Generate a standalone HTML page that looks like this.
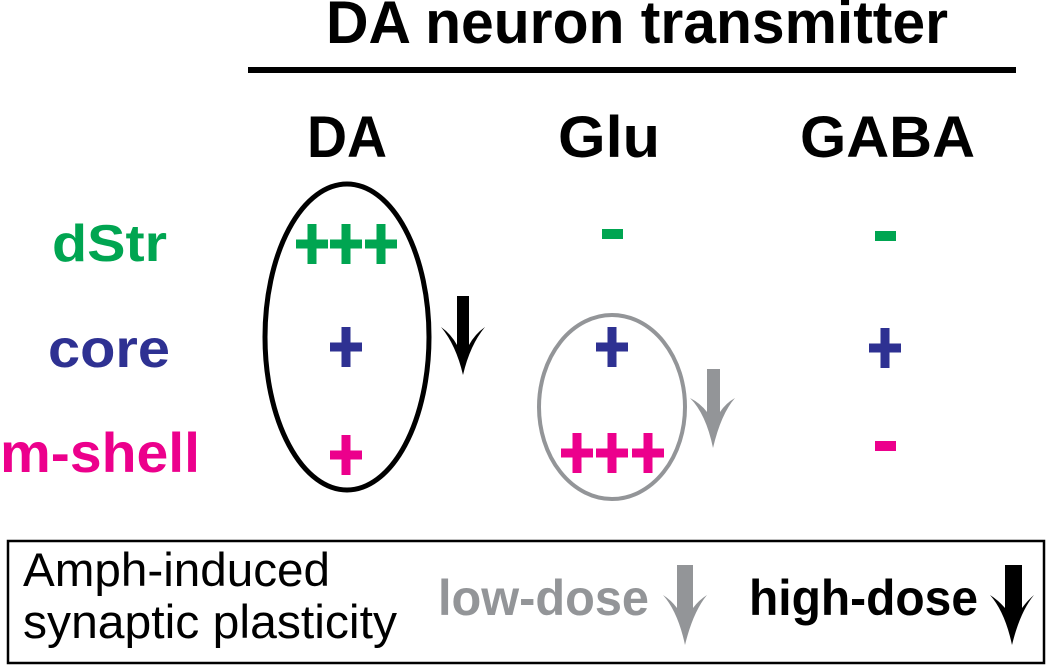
<!DOCTYPE html>
<html><head><meta charset="utf-8"><style>html,body{margin:0;padding:0;background:#fff}svg{display:block}</style></head>
<body>
<svg width="1050" height="665" viewBox="0 0 1050 665" xmlns="http://www.w3.org/2000/svg" font-family="Liberation Sans, Arial, sans-serif">
<text x="326" y="43" font-size="60" font-weight="bold" textLength="622" lengthAdjust="spacingAndGlyphs">DA neuron transmitter</text>
<rect x="248" y="67" width="768" height="6" fill="#000"/>
<text x="307" y="157" font-size="58" font-weight="bold" textLength="80" lengthAdjust="spacingAndGlyphs">DA</text>
<text x="558" y="157" font-size="58" font-weight="bold" textLength="102" lengthAdjust="spacingAndGlyphs">Glu</text>
<text x="800" y="157" font-size="58" font-weight="bold" textLength="175" lengthAdjust="spacingAndGlyphs">GABA</text>
<text x="52" y="261" font-size="52" font-weight="bold" fill="#00a551" textLength="115" lengthAdjust="spacingAndGlyphs">dStr</text>
<text x="48" y="367" font-size="54" font-weight="bold" fill="#2e3192" textLength="122" lengthAdjust="spacingAndGlyphs">core</text>
<text x="0" y="472" font-size="56" font-weight="bold" fill="#ec008c" textLength="200" lengthAdjust="spacingAndGlyphs">m-shell</text>
<defs>
<g id="p"><rect x="-16" y="-4.5" width="32" height="9"/><rect x="-4.5" y="-20" width="9" height="40"/></g>
</defs>
<g fill="#00a551"><use href="#p" x="312" y="244"/><use href="#p" x="346" y="244"/><use href="#p" x="381" y="244"/>
<rect x="602" y="229" width="21" height="10"/><rect x="875" y="231" width="21" height="10"/></g>
<g fill="#2e3192"><use href="#p" x="346" y="347"/><use href="#p" x="612" y="347"/><use href="#p" x="885" y="348"/></g>
<g fill="#ec008c"><use href="#p" x="346" y="455"/><use href="#p" x="577" y="453"/><use href="#p" x="612" y="453"/><use href="#p" x="648" y="453"/>
<rect x="875" y="441" width="21" height="10"/></g>
<ellipse cx="347" cy="337" rx="82" ry="153" fill="none" stroke="#000" stroke-width="5"/>
<ellipse cx="612" cy="407" rx="73" ry="92" fill="none" stroke="#939598" stroke-width="4"/>
<path d="M457 296H469V345Q475 334 485 327Q470 345 463 375Q456 345 441 327Q451 334 457 345Z" fill="#000"/>
<path d="M707 369H720V412Q726 403 735 398Q721 414 713 448Q706 414 690 398Q700 403 707 412Z" fill="#939598"/>
<rect x="8" y="541" width="1036" height="122" fill="none" stroke="#000" stroke-width="2.5"/>
<text x="23" y="586" font-size="47" textLength="307" lengthAdjust="spacingAndGlyphs">Amph-induced</text>
<text x="23" y="638" font-size="47" textLength="374" lengthAdjust="spacingAndGlyphs">synaptic plasticity</text>
<text x="438" y="615" font-size="50" font-weight="bold" fill="#939598" textLength="211" lengthAdjust="spacingAndGlyphs">low-dose</text>
<path d="M677 565H693V608Q699 600 707 595Q693 612 685 645Q678 612 663 595Q671 600 677 608Z" fill="#939598"/>
<text x="749" y="615" font-size="50" font-weight="bold" fill="#000" textLength="229" lengthAdjust="spacingAndGlyphs">high-dose</text>
<path d="M1005 565H1022V608Q1028 600 1034 595Q1020 612 1012 645Q1005 612 990 595Q998 600 1005 608Z" fill="#000"/>
</svg>
</body></html>
